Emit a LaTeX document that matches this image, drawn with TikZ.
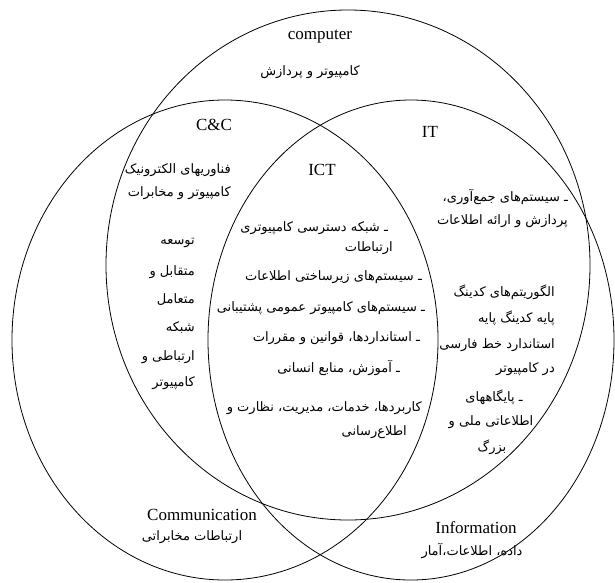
\documentclass[tikz,border=0pt]{standalone}
\usepackage{fontspec}
\setmainfont{Liberation Serif}
\newfontfamily\fafont[Script=Arabic]{DejaVu Sans}
\TeXXeTstate=1
\newcommand{\fatext}[1]{\beginR #1\endR}
\newcommand{\fadash}[1]{\beginR ـ\ #1\endR}

\begin{document}
\begin{tikzpicture}[x=1pt, y=-1pt,
    venn/.style={line width=0.8pt},
    lat/.style={font=\fontsize{17}{20}\selectfont, inner sep=0pt},
    per/.style={font=\fontsize{13}{16}\fafont, inner sep=0pt},
    pr/.style={per, anchor=east}
  ]
  \useasboundingbox (0,0) rectangle (615,582);

  % the three sets
  \draw[venn] (348,265) ellipse [x radius=242, y radius=255];
  \draw[venn] (225,340) ellipse [x radius=213, y radius=240];
  \draw[venn] (411,340) ellipse [x radius=203, y radius=240];

  % computer
  \node[lat] (comp)   at (320,37) {computer};
  \node[per] (compfa) at (310,72) {\fatext{کامپیوتر و پردازش}};

  % C&C
  \node[lat] (cc)  at (214,125) {C\&C};
  \node[pr]  (cc1) at (231,170) {\fatext{فناوریهای الکترونیک}};
  \node[pr]  (cc2) at (231,193) {\fatext{کامپیوتر و مخابرات}};
  \node[pr]  (cc3) at (195,243) {\fatext{توسعه}};
  \node[pr]  (cc4) at (195,272) {\fatext{متقابل و}};
  \node[pr]  (cc5) at (195,300) {\fatext{متعامل}};
  \node[pr]  (cc6) at (195,328) {\fatext{شبکه}};
  \node[pr]  (cc7) at (195,357) {\fatext{ارتباطی و}};
  \node[pr]  (cc8) at (195,383) {\fatext{کامپیوتر}};

  % IT
  \node[lat] (it)  at (430,132) {IT};
  \node[pr]  (it1) at (568,197) {\fadash{سیستم‌های جمع‌آوری،}};
  \node[pr]  (it2) at (568,221) {\fatext{پردازش و ارائه اطلاعات}};
  \node[pr]  (it3) at (555,292) {\fatext{الگوریتم‌های کدینگ}};
  \node[pr]  (it4) at (555,318) {\fatext{پایه کدینگ پایه}};
  \node[pr]  (it5) at (555,345) {\fatext{استاندارد خط فارسی}};
  \node[pr]  (it6) at (555,369) {\fatext{در کامپیوتر}};
  \node[per] (it7) at (494,397) {\fadash{پایگاههای}};
  \node[per] (it8) at (491,422) {\fatext{اطلاعاتی ملی و}};
  \node[per] (it9) at (492,447) {\fatext{بزرگ}};

  % ICT
  \node[lat] (ict)  at (322,170) {ICT};
  \node[pr]  (ict1) at (388,228) {\fadash{شبکه دسترسی کامپیوتری}};
  \node[pr]  (ict2) at (393,248) {\fatext{ارتباطات}};
  \node[pr]  (ict3) at (422,277) {\fadash{سیستم‌های زیرساختی اطلاعات}};
  \node[pr]  (ict4) at (425,308) {\fadash{سیستم‌های کامپیوتر عمومی پشتیبانی}};
  \node[pr]  (ict5) at (420,338) {\fadash{استانداردها، قوانین و مقررات}};
  \node[pr]  (ict6) at (400,368) {\fadash{آموزش، منابع انسانی}};
  \node[pr]  (ict7) at (422,408) {\fatext{کاربردها، خدمات، مدیریت، نظارت و}};
  \node[pr]  (ict8) at (407,432) {\fatext{اطلاع‌رسانی}};

  % bottom labels
  \node[lat] (comm)   at (202,515) {Communication};
  \node[per] (commfa) at (192,537) {\fatext{ارتباطات مخابراتی}};
  \node[lat] (info)   at (476,528) {Information};
  \node[per] (infofa) at (472,551) {\fatext{داده، اطلاعات،آمار}};
\end{tikzpicture}
\end{document}
